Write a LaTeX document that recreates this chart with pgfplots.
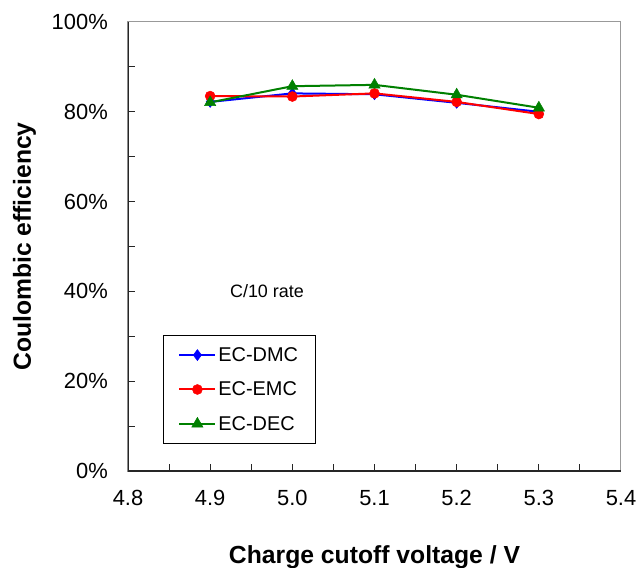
\documentclass[border=0pt]{standalone}
\usepackage{fontspec}
\setmainfont{Liberation Sans}
\usepackage{pgfplots}
\pgfplotsset{compat=1.18}
\definecolor{dgreen}{RGB}{0,128,0}
\begin{document}
\begin{tikzpicture}
\begin{axis}[
  at={(0,0)}, anchor=south west,
  scale only axis, width=493bp, height=449bp,
  xmin=4.8, xmax=5.4, ymin=0, ymax=100,
  xtick={4.8,4.9,5.0,5.1,5.2,5.3,5.4},
  xticklabels={4.8,4.9,5.0,5.1,5.2,5.3,5.4},
  minor x tick num=1,
  ytick={0,20,40,60,80,100},
  yticklabels={0\%,20\%,40\%,60\%,80\%,100\%},
  minor y tick num=1,
  tick align=inside,
  xtick pos=bottom, ytick pos=left,
  major tick length=7bp, minor tick length=7bp,
  tick style={black!85, line width=1bp},
  axis line style={line width=1bp, gray!80},
  ticklabel style={font=\fontsize{22}{26}\selectfont, inner sep=0pt},
  xticklabel style={anchor=center, yshift=-27bp},
  yticklabel style={anchor=east, xshift=-20bp},
  /pgf/number format/assume math mode=true,
  xlabel={\textbf{Charge cutoff voltage / V}},
  ylabel={\textbf{Coulombic efficiency}},
  label style={font=\fontsize{24.8}{28}\selectfont},
  xlabel style={at={(axis description cs:0.5,-0.1915)}, anchor=center},
  ylabel style={at={(axis description cs:-0.21,0.5)}, anchor=center},
  legend style={at={(axis cs:4.8426,30.29)}, anchor=north west, draw=black, line width=0.8bp,
    font=\fontsize{20}{24}\selectfont, row sep=15bp, inner xsep=15bp, inner ysep=10bp},
  legend cell align=left,
  legend image code/.code={\draw[mark repeat=2, mark phase=2] plot coordinates {(0bp,0bp) (18bp,0bp) (36bp,0bp)};},
  every axis plot/.append style={line width=2bp},
]
\addplot[blue, mark=diamond*, mark size=5.5bp, mark options={line width=0.5bp}] coordinates {(4.9,82.2) (5.0,84.1) (5.1,83.9) (5.2,82.0) (5.3,80.0)};
\addlegendentry{EC-DMC}
\addplot[red, mark=*, mark size=5bp, mark options={line width=0.5bp}] coordinates {(4.9,83.5) (5.0,83.4) (5.1,84.1) (5.2,82.2) (5.3,79.5)};
\addlegendentry{EC-EMC}
\addplot[dgreen, mark=triangle*, mark size=6.5bp, mark options={line width=0.5bp}] coordinates {(4.9,82.1) (5.0,85.7) (5.1,86.0) (5.2,83.8) (5.3,80.9)};
\addlegendentry{EC-DEC}
\node[anchor=west, inner sep=0pt, font=\fontsize{18}{21}\selectfont] at (axis cs:4.924,40.1) {C/10 rate};
\draw[black!85, line width=1.3bp] (rel axis cs:0,1) -- (rel axis cs:0,0) -- (rel axis cs:1,0);
\end{axis}
\pgfresetboundingbox
\useasboundingbox (-128bp,-97bp) rectangle (511bp,471bp);
\end{tikzpicture}
\end{document}
